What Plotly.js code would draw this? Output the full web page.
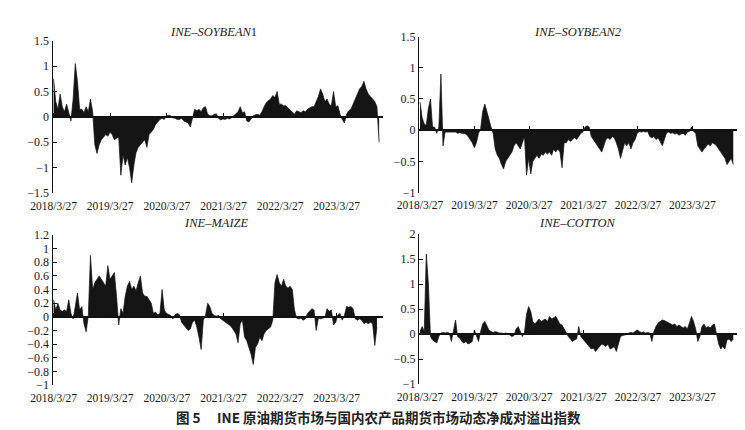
<!DOCTYPE html>
<html><head><meta charset="utf-8">
<script src="https://cdn.plot.ly/plotly-3.0.1.min.js"></script>
<style>html,body{margin:0;padding:0;background:#fff}#chart{width:745px;height:430px}</style>
</head><body><div id="chart"></div>
<script>
// sampling: one value every 14 days from 2018-03-27
const startDate = '2018-03-27';
const stepDays = 14;

const tickDates = ['2018-03-27','2019-03-27','2020-03-27','2021-03-27','2022-03-27','2023-03-27'];
const tickLabels = ['2018/3/27','2019/3/27','2020/3/27','2021/3/27','2022/3/27','2023/3/27'];

const panelTitles = ['<i>INE–SOYBEAN</i>1','<i>INE–SOYBEAN2</i>','<i>INE–MAIZE</i>','<i>INE–COTTON</i>'];
const captionText = '图 5　 INE 原油期货市场与国内农产品期货市场动态净成对溢出指数';

const soybean1 = [
 0.75,0.3,0.15,0.45,0.2,0.1,0.25,0.05,-0.08,0.35,
 1.05,0.7,0.15,0.15,0.08,0.2,0.1,0.35,0.1,-0.55,
 -0.72,-0.55,-0.45,-0.4,-0.35,-0.38,-0.3,-0.35,-0.45,-0.42,
 -0.4,-1.15,-0.75,-0.95,-0.8,-1.0,-1.3,-0.95,-0.7,-0.6,
 -0.55,-0.5,-0.45,-0.6,-0.35,-0.3,-0.25,-0.15,-0.1,-0.05,
 -0.03,-0.05,0.02,0.03,0.02,-0.02,-0.03,-0.05,-0.05,-0.03,
 -0.08,-0.1,-0.12,-0.2,-0.05,0.15,0.12,0.15,0.1,0.18,
 0.2,0.05,0.02,0.02,0.05,0.06,-0.03,-0.06,-0.04,-0.05,
 -0.03,-0.04,-0.02,0.02,0.05,0.1,0.2,0.08,0.1,-0.08,
 -0.1,-0.03,0.02,0.04,0.05,0.03,0.1,0.2,0.28,0.32,
 0.35,0.42,0.38,0.5,0.25,0.25,0.22,0.22,0.18,0.15,
 0.1,0.05,0.12,0.1,0.08,0.12,0.1,0.15,0.18,0.2,
 0.2,0.3,0.4,0.55,0.45,0.3,0.35,0.25,0.22,0.5,
 0.2,0.22,0.05,-0.05,-0.12,0.05,0.12,0.15,0.25,0.35,
 0.45,0.55,0.6,0.7,0.55,0.45,0.4,0.35,0.3,0.2,
 -0.5
];
const soybean2 = [
 0.45,0.2,0.1,0.08,0.35,0.5,0.05,0.05,-0.05,0.05,
 0.9,-0.25,-0.03,-0.03,-0.04,-0.03,-0.04,-0.03,-0.05,-0.04,
 -0.05,-0.05,-0.06,-0.1,-0.15,-0.2,-0.28,-0.2,-0.05,0.02,
 0.3,0.42,0.3,0.15,0.05,-0.05,-0.3,-0.4,-0.45,-0.55,
 -0.62,-0.5,-0.45,-0.4,-0.35,-0.25,-0.2,-0.25,-0.3,-0.2,
 -0.1,-0.72,-0.45,-0.7,-0.5,-0.45,-0.4,-0.45,-0.38,-0.4,
 -0.35,-0.38,-0.35,-0.4,-0.3,-0.35,-0.3,-0.35,-0.6,-0.2,
 -0.2,-0.15,-0.18,-0.15,-0.12,-0.15,-0.1,-0.05,-0.03,0.05,
 0.07,0.05,-0.1,-0.15,-0.18,-0.25,-0.3,-0.35,-0.25,-0.15,
 -0.12,-0.15,-0.1,-0.12,-0.2,-0.3,-0.45,-0.3,-0.2,-0.25,
 -0.2,-0.3,-0.2,-0.15,-0.05,-0.02,-0.03,-0.02,-0.03,-0.02,
 -0.1,-0.12,-0.1,-0.15,-0.12,-0.18,-0.25,-0.15,-0.05,-0.03,
 -0.05,-0.04,-0.06,-0.05,-0.08,-0.06,-0.05,-0.08,-0.03,-0.02,
 0.05,-0.02,-0.05,-0.25,-0.3,-0.35,-0.3,-0.25,-0.22,-0.25,
 -0.2,-0.22,-0.25,-0.3,-0.35,-0.4,-0.45,-0.55,-0.5,-0.45,
 -0.55
];
const maize = [
 0.25,0.1,0.2,0.1,0.08,0.1,0.08,0.25,0.05,-0.03,
 0.15,0.35,0.1,0.15,-0.1,-0.22,0.02,0.9,0.4,0.5,
 0.55,0.6,0.55,0.5,0.45,0.75,0.55,0.6,0.65,0.3,
 -0.12,0.12,0.05,0.3,0.45,0.52,0.4,0.45,0.38,0.5,
 0.6,0.35,0.3,0.3,0.25,0.2,0.05,0.07,0.03,0.05,
 0.4,0.1,0.05,0.04,0.02,-0.03,0.03,0.05,0.03,-0.08,
 -0.12,-0.15,-0.2,-0.18,-0.08,-0.05,-0.15,-0.3,-0.48,-0.05,
 0.02,0.2,0.15,0.05,0.02,0.01,0.02,-0.03,-0.05,-0.08,
 -0.1,-0.12,-0.15,-0.2,-0.25,-0.38,-0.1,-0.05,-0.3,-0.35,
 -0.45,-0.55,-0.7,-0.45,-0.4,-0.3,-0.35,-0.25,-0.2,-0.18,
 -0.15,-0.05,0.5,0.62,0.5,0.45,0.55,0.45,0.42,0.45,
 0.4,0.1,-0.02,-0.03,-0.02,-0.05,-0.03,0.05,0.08,0.12,
 0.1,-0.2,-0.02,-0.03,-0.02,-0.01,0.12,0.08,0.1,-0.12,
 -0.08,0.03,0.05,-0.05,0.02,0.15,0.14,0.15,0.12,-0.03,
 -0.05,-0.03,-0.05,-0.1,-0.08,-0.1,-0.08,-0.1,-0.42,-0.15
];
const cotton = [
 0.05,0.15,0.05,1.6,1.0,-0.05,-0.12,-0.15,-0.18,-0.05,
 0.02,0.03,0.02,0.03,0.02,-0.15,0.05,0.28,-0.05,-0.08,
 -0.15,-0.18,-0.15,-0.2,-0.18,-0.15,0.08,-0.05,-0.15,0.05,
 0.2,0.25,0.15,0.08,0.05,0.03,0.05,0.03,0.02,0.02,
 0.01,0.02,0.01,-0.02,-0.05,-0.03,0.1,0.15,0.05,-0.05,
 0.02,0.4,0.55,0.45,0.25,0.2,0.25,0.3,0.25,0.28,
 0.3,0.25,0.35,0.3,0.32,0.35,0.28,0.2,0.18,0.1,
 0.05,-0.05,-0.1,-0.15,-0.12,-0.1,0.15,-0.05,-0.1,-0.15,
 -0.2,-0.25,-0.3,-0.28,-0.35,-0.3,-0.25,-0.2,-0.22,-0.25,
 -0.2,-0.3,-0.28,-0.25,-0.35,-0.2,-0.05,-0.03,-0.02,-0.01,
 0.02,0.03,0.02,0.05,0.08,0.05,0.03,0.04,0.02,0.03,
 0.02,-0.15,0.05,0.15,0.22,0.25,0.28,0.27,0.25,0.22,
 0.2,0.18,0.2,0.15,0.18,0.15,0.12,0.15,0.1,0.22,
 0.35,0.25,0.1,-0.15,-0.05,0.15,0.2,0.12,0.15,0.12,
 0.18,0.2,0.02,-0.2,-0.3,-0.25,-0.3,-0.12,-0.1,-0.15,
 -0.1
];

function makeDates(n){
  const t0 = Date.parse(startDate + 'T00:00:00Z');
  const out = [];
  for (let i = 0; i < n; i++) out.push(new Date(t0 + i*stepDays*86400000).toISOString().slice(0,10));
  return out;
}

const W = 745, H = 430;
const xRange = ['2018-03-20','2024-01-20'];
const panels = [
  {vals: soybean1, xd:[52.5/W, 383/W], yd:[1-193/H, 1-40.7/H], yr:[-1.5,1.5], dt:0.5, tx:213, ty:32},
  {vals: soybean2, xd:[419/W, 737/W], yd:[1-192.7/H, 1-36.5/H], yr:[-1,1.5], dt:0.5, tx:577, ty:32},
  {vals: maize,    xd:[52.5/W, 383/W], yd:[1-385/H, 1-235/H], yr:[-1,1.2], dt:0.2, tx:217, ty:223},
  {vals: cotton,   xd:[419/W, 737/W], yd:[1-384/H, 1-234/H], yr:[-1,2], dt:0.5, tx:577, ty:223}
];

const serif = '"Liberation Serif", "Times New Roman", serif';
const tickFont = {family: serif, size:12, color:'#1a1a1a'};
const xTickFont = {family: serif, size:11.5, color:'#1a1a1a'};
const traces = [];
const layout = {
  width: W, height: H, margin:{l:0,r:0,t:0,b:0},
  paper_bgcolor:'#fff', plot_bgcolor:'#fff', showlegend:false,
  annotations: [], font: tickFont
};

panels.forEach((p, k) => {
  const n = k + 1;
  const xa = n === 1 ? 'x' : 'x' + n;
  const ya = n === 1 ? 'y' : 'y' + n;
  const xo = 'x' + (n + 4);
  const dates = makeDates(p.vals.length);
  traces.push({
    type:'scatter', mode:'lines', x: dates, y: p.vals, xaxis: xa, yaxis: ya,
    fill:'tozeroy', fillcolor:'#141414', line:{color:'#141414', width:0.7}, hoverinfo:'skip'
  });
  // invisible copy to host the zero-line tick axis
  traces.push({
    type:'scatter', mode:'lines', x: dates, y: p.vals, xaxis: xo, yaxis: ya,
    line:{color:'rgba(0,0,0,0)', width:0}, hoverinfo:'skip'
  });
  const zeroPos = p.yd[0] + (0 - p.yr[0]) / (p.yr[1] - p.yr[0]) * (p.yd[1] - p.yd[0]);
  layout['xaxis' + (n === 1 ? '' : n)] = {
    domain: p.xd, anchor: ya, range: xRange, type:'date',
    tickmode:'array', tickvals: tickDates, ticktext: tickLabels,
    showline:false, ticks:'', showgrid:false, zeroline:false, tickfont: xTickFont, ticklabelstandoff: 4
  };
  layout['xaxis' + (n + 4)] = {
    overlaying: xa, anchor:'free', position: zeroPos, side:'top', range: xRange, type:'date',
    tickmode:'array', tickvals: tickDates, ticks:'outside', ticklen:4, tickwidth:1, tickcolor:'#111',
    showticklabels:false, showline:false, showgrid:false, zeroline:false
  };
  layout['yaxis' + (n === 1 ? '' : n)] = {
    domain: p.yd, anchor: xa, range: p.yr, dtick: p.dt, tick0: 0,
    showline:true, linecolor:'#111', linewidth:1, ticks:'inside', ticklen:4, tickcolor:'#111',
    showgrid:false, zeroline:true, zerolinecolor:'#111', zerolinewidth:2, tickfont: tickFont
  };
  layout.annotations.push({
    text: panelTitles[k], x: p.tx / W, y: 1 - p.ty / H, xref:'paper', yref:'paper',
    showarrow:false, xanchor:'center', yanchor:'middle',
    font:{family: serif, size:12.5, color:'#222'}
  });
});

layout.annotations.push({
  text: '<b>' + captionText + '</b>', x: 379 / W, y: 1 - 417 / H, xref:'paper', yref:'paper',
  showarrow:false, xanchor:'center', yanchor:'middle',
  font:{family:'"Noto Sans CJK SC", sans-serif', size:13.5, color:'#222'}
});

Plotly.newPlot('chart', traces, layout, {staticPlot:true, displayModeBar:false});
</script>
</body></html>
